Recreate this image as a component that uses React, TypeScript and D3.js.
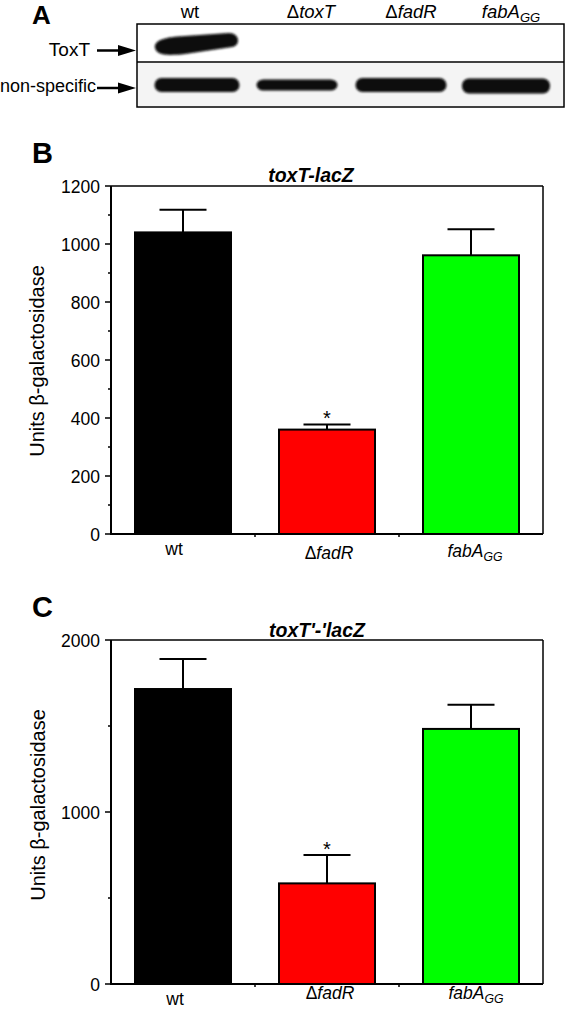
import React from "react";
import * as d3 from "d3";

// ---- data ----
const lanes = ["wt", "ΔtoxT", "ΔfadR", "fabAGG"];
const toxTBand = [1, 0, 0, 0];
const nonSpecificBand = [1, 1, 1, 1];

const categories = ["wt", "ΔfadR", "fabAGG"];
const colors = ["#000000", "#ff0000", "#00ff00"];
const bMeans = [1040, 360, 961];
const bErrors = [78, 18, 90];
const cMeans = [1715, 585, 1483];
const cErrors = [175, 165, 141];
const bTicks = [0, 200, 400, 600, 800, 1000, 1200];
const bMinor = [100, 300, 500, 700, 900, 1100];
const cTicks = [0, 1000, 2000];
const cMinor = [500, 1500];
const sigB = [false, true, false];
const sigC = [false, true, false];

const FONT = "'Liberation Sans', Arial, Helvetica, sans-serif";

function CatLabel({ name, x, y, size }: { name: string; x: number; y: number; size: number }) {
  if (name === "wt")
    return (
      <text x={x} y={y} textAnchor="middle" fontSize={size} fontFamily={FONT}>
        wt
      </text>
    );
  if (name.startsWith("Δ"))
    return (
      <text x={x} y={y} textAnchor="middle" fontSize={size} fontFamily={FONT}>
        Δ<tspan fontStyle="italic">{name.slice(1)}</tspan>
      </text>
    );
  return (
    <text x={x} y={y} textAnchor="middle" fontSize={size} fontFamily={FONT} fontStyle="italic">
      fabA
      <tspan fontSize={size * 0.7} dy={4}>
        GG
      </tspan>
    </text>
  );
}

function BarPanel({
  means,
  errors,
  ticks,
  minor,
  max,
  top,
  bottom,
  title,
  titleX,
  titleY,
  sig,
  letter,
  letterY,
  ylabelX,
  ylabelY,
  catY,
  catDx,
}: any) {
  const left = 111;
  const right = 543;
  const x = d3.scaleBand<string>().domain(categories).range([left, right]).padding(0);
  const y = d3.scaleLinear().domain([0, max]).range([bottom, top]);
  const bw = x.bandwidth();
  const barW = bw * (2 / 3);
  const capW = 47;
  return (
    <g>
      <text x={32} y={letterY} fontSize={29} fontWeight="bold" fontFamily={FONT}>
        {letter}
      </text>
      <text x={titleX} y={titleY} textAnchor="middle" fontSize={19.5} fontWeight="bold" fontStyle="italic" fontFamily={FONT}>
        {title}
      </text>
      {categories.map((c, i) => {
        const cx = x(c)! + bw / 2;
        const yTop = y(means[i]);
        const yErr = y(means[i] + errors[i]);
        return (
          <g key={c}>
            <line x1={cx} x2={cx} y1={yTop} y2={yErr} stroke="#000" strokeWidth={2} />
            <line x1={cx - capW / 2} x2={cx + capW / 2} y1={yErr} y2={yErr} stroke="#000" strokeWidth={2} />
            <rect x={cx - barW / 2} y={yTop} width={barW} height={bottom - yTop} fill={colors[i]} stroke="#000" strokeWidth={2} />
            {sig[i] && (
              <text x={cx} y={yErr + 1} textAnchor="middle" fontSize={20} fontFamily={FONT}>
                *
              </text>
            )}
            <CatLabel name={c} x={cx + catDx[i]} y={catY[i]} size={17.5} />
          </g>
        );
      })}
      {/* frame */}
      <line x1={left} x2={right} y1={top} y2={top} stroke="#000" strokeWidth={1.5} />
      <line x1={right} x2={right} y1={top} y2={bottom} stroke="#000" strokeWidth={1.5} />
      <line x1={left} x2={left} y1={top} y2={bottom + 1} stroke="#000" strokeWidth={2} />
      <line x1={left} x2={right} y1={bottom} y2={bottom} stroke="#000" strokeWidth={2} />
      {categories.slice(1).map((c) => (
        <line key={c} x1={x(c)!} x2={x(c)!} y1={bottom} y2={bottom + 3} stroke="#000" strokeWidth={1.5} />
      ))}
      {ticks.map((t: number) => (
        <g key={t}>
          <line x1={left - 6} x2={left} y1={y(t)} y2={y(t)} stroke="#000" strokeWidth={1.5} />
          <text x={left - 11} y={y(t) + 6.5} textAnchor="end" fontSize={17.5} fontFamily={FONT}>
            {t}
          </text>
        </g>
      ))}
      {minor.map((t: number) => (
        <line key={t} x1={left - 3} x2={left} y1={y(t)} y2={y(t)} stroke="#000" strokeWidth={1.5} />
      ))}
      <text
        transform={`translate(${ylabelX},${ylabelY}) rotate(-90)`}
        textAnchor="middle"
        fontSize={20}
        fontFamily={FONT}
      >
        Units β-galactosidase
      </text>
    </g>
  );
}

function Blot() {
  const laneX = d3.scalePoint<string>().domain(lanes).range([190, 511]);
  const labelX = [190, 311, 411, 511];
  const bandX = [197, 297, 401, 506];
  const bandW = [85, 81, 91, 88];
  const bandH = [14, 11, 14, 15];
  return (
    <g>
      <defs>
        <filter id="blur" x="-10%" y="-50%" width="120%" height="200%">
          <feGaussianBlur stdDeviation="1.1" />
        </filter>
      </defs>
      <text x={32} y={24} fontSize={26} fontWeight="bold" fontFamily={FONT}>
        A
      </text>
      {lanes.map((l, i) => (
        <text key={l} x={labelX[i]} y={18} textAnchor="middle" fontSize={18.5} fontFamily={FONT} fontStyle={i === 0 ? "normal" : "italic"}>
          {i === 0 ? (
            "wt"
          ) : i === 3 ? (
            <>
              fabA<tspan fontSize={13} dy={4}>GG</tspan>
            </>
          ) : (
            <>
              <tspan fontStyle="normal">Δ</tspan>
              {l.slice(1)}
            </>
          )}
          <title>{laneX(l)}</title>
        </text>
      ))}
      <rect x={137} y={24} width={427} height={83} fill="#fff" stroke="#000" strokeWidth={1.5} />
      <rect x={138} y={63} width={425} height={43} fill="#f4f4f4" />
      <line x1={137} x2={564} y1={62} y2={62} stroke="#000" strokeWidth={1.5} />
      {lanes.map((l, i) => {
        const bx = bandX[i];
        return (
          <g key={l} filter="url(#blur)">
            {toxTBand[i] === 1 && (
              <path
                d={`M${bx - 42},${48} C${bx - 43},${40} ${bx - 32},${37} ${bx - 12},${36} L${bx + 32},${33} C${bx + 43},${33} ${bx + 44},${46} ${bx + 35},${47} L${bx - 12},${54} C${bx - 32},${56} ${bx - 40},${55} ${bx - 42},${48} Z`}
                fill="#0a0a0a"
              />
            )}
            {nonSpecificBand[i] === 1 && (
              <rect x={bx - bandW[i] / 2} y={85 - bandH[i] / 2 + (i === 3 ? 1 : 0)} width={bandW[i]} height={bandH[i]} rx={7} fill="#0a0a0a" />
            )}
          </g>
        );
      })}
      <text x={90} y={56} textAnchor="end" fontSize={19} fontFamily={FONT}>
        ToxT
      </text>
      <line x1={97} x2={120} y1={50.5} y2={50.5} stroke="#000" strokeWidth={2.5} />
      <path d="M118,45 L136,50.5 L118,56 Z" fill="#000" />
      <text x={96} y={92} textAnchor="end" fontSize={18} fontFamily={FONT}>
        non-specific
      </text>
      <line x1={97} x2={120} y1={88} y2={88} stroke="#000" strokeWidth={2.5} />
      <path d="M118,82.5 L136,88 L118,93.5 Z" fill="#000" />
    </g>
  );
}

export default function App() {
  return (
    <svg width={566} height={1009} style={{ display: "block", position: "absolute", left: 0, top: 0 }}>
      <rect width={566} height={1009} fill="#fff" />
      <Blot />
      <BarPanel
        means={bMeans}
        errors={bErrors}
        ticks={bTicks}
        minor={bMinor}
        max={1200}
        top={186}
        bottom={534}
        title="toxT-lacZ"
        titleX={311}
        titleY={182}
        sig={sigB}
        letter="B"
        letterY={163}
        ylabelX={44}
        ylabelY={361}
        catY={[555, 559, 557]}
        catDx={[-9, 2, 4]}
      />
      <BarPanel
        means={cMeans}
        errors={cErrors}
        ticks={cTicks}
        minor={cMinor}
        max={2000}
        top={640}
        bottom={984}
        title="toxT'-'lacZ"
        titleX={317}
        titleY={637}
        sig={sigC}
        letter="C"
        letterY={617}
        ylabelX={45}
        ylabelY={805}
        catY={[1005, 999, 999]}
        catDx={[-8, 3, 5]}
      />
    </svg>
  );
}
